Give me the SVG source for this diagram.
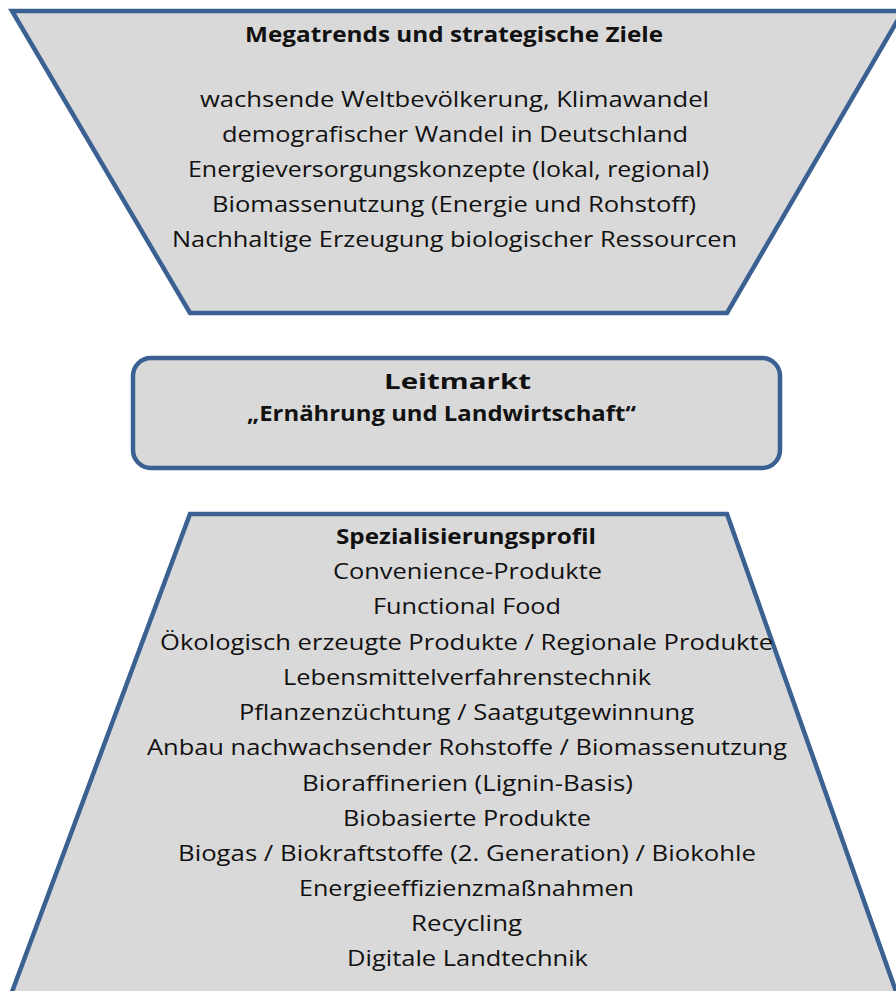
<svg xmlns="http://www.w3.org/2000/svg" width="896" height="991" viewBox="0 0 896 991">
<style>
.shape{fill:#D9D9D9;stroke:#3B6192;stroke-width:4.5;stroke-linejoin:miter}
.t{font-family:"Open Sans","Liberation Sans",sans-serif;font-size:22px;fill:#111;text-anchor:middle}
.b{font-weight:bold}
</style>
<rect width="896" height="991" fill="#FFFFFF"/>
<g id="megatrends">
<polygon class="shape" points="12,11 903,11 727,313 190,313"/>
<text class="t b" x="454" y="42" textLength="418" lengthAdjust="spacingAndGlyphs">Megatrends und strategische Ziele</text>
<text class="t" x="454.5" y="107" textLength="509" lengthAdjust="spacingAndGlyphs">wachsende Weltbevölkerung, Klimawandel</text>
<text class="t" x="455" y="142" textLength="466" lengthAdjust="spacingAndGlyphs">demografischer Wandel in Deutschland</text>
<text class="t" x="448.5" y="177" textLength="521" lengthAdjust="spacingAndGlyphs">Energieversorgungskonzepte (lokal, regional)</text>
<text class="t" x="454" y="212" textLength="484" lengthAdjust="spacingAndGlyphs">Biomassenutzung (Energie und Rohstoff)</text>
<text class="t" x="454.5" y="247" textLength="565" lengthAdjust="spacingAndGlyphs">Nachhaltige Erzeugung biologischer Ressourcen</text>
</g>
<g id="leitmarkt">
<rect class="shape" x="133" y="358" width="647" height="110" rx="18" ry="18"/>
<text class="t b" x="457.5" y="389" textLength="147" lengthAdjust="spacingAndGlyphs">Leitmarkt</text>
<text class="t b" x="441.5" y="421" textLength="389" lengthAdjust="spacingAndGlyphs">„Ernährung und Landwirtschaft“</text>
</g>
<g id="spezialisierungsprofil">
<polygon class="shape" points="190,514 727,514 899,1000 9,1000"/>
<text class="t b" x="466" y="544" textLength="260" lengthAdjust="spacingAndGlyphs">Spezialisierungsprofil</text>
<text class="t" x="467.5" y="579" textLength="269" lengthAdjust="spacingAndGlyphs">Convenience-Produkte</text>
<text class="t" x="467" y="614" textLength="188" lengthAdjust="spacingAndGlyphs">Functional Food</text>
<text class="t" x="466.5" y="649.5" textLength="613" lengthAdjust="spacingAndGlyphs">Ökologisch erzeugte Produkte / Regionale Produkte</text>
<text class="t" x="467" y="685" textLength="368" lengthAdjust="spacingAndGlyphs">Lebensmittelverfahrenstechnik</text>
<text class="t" x="466.5" y="720" textLength="455" lengthAdjust="spacingAndGlyphs">Pflanzenzüchtung / Saatgutgewinnung</text>
<text class="t" x="467" y="755" textLength="640" lengthAdjust="spacingAndGlyphs">Anbau nachwachsender Rohstoffe / Biomassenutzung</text>
<text class="t" x="467.5" y="790.5" textLength="331" lengthAdjust="spacingAndGlyphs">Bioraffinerien (Lignin-Basis)</text>
<text class="t" x="467" y="825.5" textLength="248" lengthAdjust="spacingAndGlyphs">Biobasierte Produkte</text>
<text class="t" x="467" y="861" textLength="578" lengthAdjust="spacingAndGlyphs">Biogas / Biokraftstoffe (2. Generation) / Biokohle</text>
<text class="t" x="466.5" y="896" textLength="335" lengthAdjust="spacingAndGlyphs">Energieeffizienzmaßnahmen</text>
<text class="t" x="466.5" y="931" textLength="111" lengthAdjust="spacingAndGlyphs">Recycling</text>
<text class="t" x="467.5" y="966" textLength="241" lengthAdjust="spacingAndGlyphs">Digitale Landtechnik</text>
</g>
<g id="connectors"/>
</svg>
